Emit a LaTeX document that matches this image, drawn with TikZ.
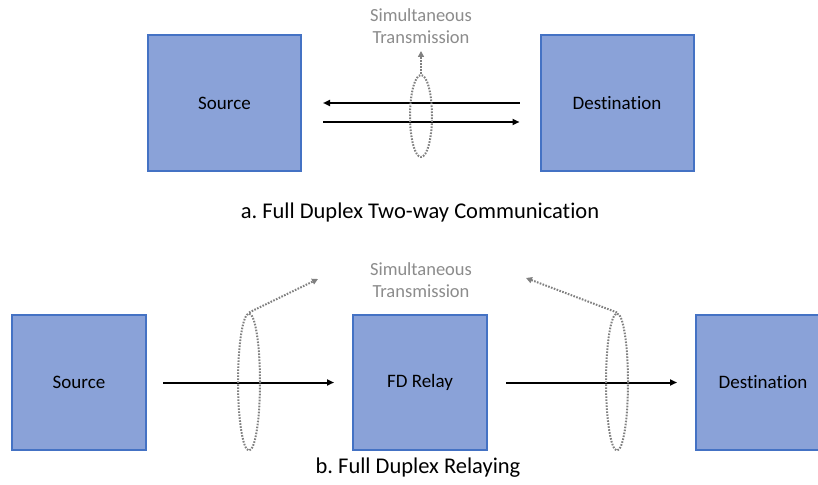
\documentclass[tikz,border=0pt]{standalone}
\usepackage{fontspec}
\setmainfont{Carlito}[Ligatures=NoCommon]
\usetikzlibrary{arrows.meta,shapes.geometric}
\definecolor{boxfill}{RGB}{138,162,216}
\definecolor{boxline}{RGB}{68,114,196}
\definecolor{hint}{RGB}{140,140,140}
\definecolor{loopc}{RGB}{128,128,128}
\frenchspacing
\tikzset{
  unit/.style={draw=boxline, fill=boxfill, line width=2pt, inner sep=0pt,
    font=\fontsize{19}{21}\selectfont, text=black},
  bigunit/.style={unit, minimum width=153pt, minimum height=136pt},
  smallunit/.style={unit, minimum width=134pt, minimum height=135pt},
  link/.style={line width=2pt, -{Triangle[length=7pt,width=6pt]}},
  loop/.style={ellipse, draw=loopc, line width=2pt, dash pattern=on 1.6pt off 1.4pt, inner sep=0pt},
  hintarrow/.style={draw=loopc, line width=2pt, dash pattern=on 1.6pt off 1.4pt,
    -{Triangle[length=6pt,width=6pt,fill=loopc]}},
  hinttext/.style={text=hint, align=center, font=\fontsize{18.5}{22}\selectfont},
  caption/.style={font=\fontsize{22.5}{25}\selectfont, text=black}
}
\begin{document}
\begin{tikzpicture}[x=1pt,y=-1pt]
\clip (0,0) rectangle (818,484);
\fill[white] (0,0) rectangle (818,484);

% ---- a. two-way communication ----
\node[bigunit] (srcA) at (224.5,103) {Source};
\node[bigunit] (dstA) at (617,103) {Destination};
\draw[link, shorten <=20pt, shorten >=21pt] (dstA.west) -- (srcA.east);
\draw[link, shorten <=21pt, shorten >=20pt] ([yshift=-19pt]srcA.east) -- ([yshift=-19pt]dstA.west);
\node[loop, minimum width=22pt, minimum height=82pt] (loopA) at (421,116) {};
\coordinate (tipA) at (421,51);
\draw[hintarrow] (loopA.north) -- (tipA);
\node[hinttext] (simA) at (421,26) {Simultaneous\\Transmission};
\node[caption] (capA) at (420,212) {a. Full Duplex Two-way Communication};

% ---- b. full duplex relaying ----
\node[smallunit] (srcB) at (79,382.5) {Source};
\node[smallunit] (relay) at (420,382.5) {FD Relay};
\node[smallunit] (dstB) at (763,382.5) {Destination};
\draw[link, shorten <=16pt, shorten >=18pt] (srcB.east) -- (relay.west);
\draw[link, shorten <=18pt, shorten >=18pt] (relay.east) -- (dstB.west);
\node[loop, minimum width=22pt, minimum height=137pt] (loopB1) at (249,382) {};
\node[loop, minimum width=22pt, minimum height=137pt] (loopB2) at (617,382) {};
\coordinate (tipB1) at (318,279);
\coordinate (tipB2) at (526,278);
\draw[hintarrow] (loopB1.north) -- (tipB1);
\draw[hintarrow] (loopB2.north) -- (tipB2);
\node[hinttext] (simB) at (421,280) {Simultaneous\\Transmission};
\node[caption] (capB) at (418,468) {b. Full Duplex Relaying};
\end{tikzpicture}
\end{document}
